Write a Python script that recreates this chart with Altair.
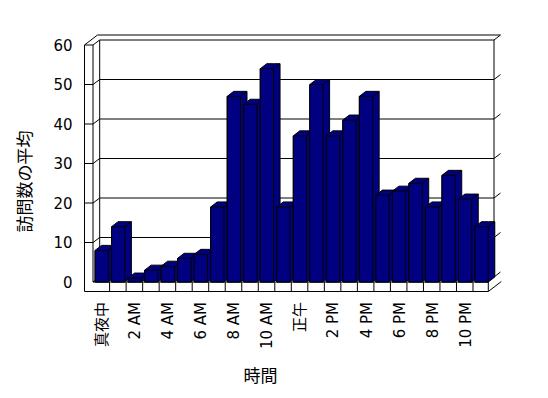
import json
import altair as alt
import pandas as pd

# ---------------- data ----------------
hours = ["真夜中", "1 AM", "2 AM", "3 AM", "4 AM", "5 AM", "6 AM", "7 AM", "8 AM", "9 AM",
         "10 AM", "11 AM", "正午", "1 PM", "2 PM", "3 PM", "4 PM", "5 PM", "6 PM", "7 PM",
         "8 PM", "9 PM", "10 PM", "11 PM"]
visits = [8, 14, 1, 3, 4, 6, 7, 19, 47, 45, 54, 19, 37, 50, 37, 41, 47, 22, 23, 25, 19, 27, 21, 14]
y_ticks = [0, 10, 20, 30, 40, 50, 60]
x_title = "時間"
y_title = "訪問数の平均"

# ---------------- geometry / style ----------------
W, H = 407, 237
X_DOMAIN = [-0.64, 24.0]
PX_PER_SLOT = W / (X_DOMAIN[1] - X_DOMAIN[0])
BAR_W = 13.3 / PX_PER_SLOT
DX = 6.5 / PX_PER_SLOT          # depth offset in slot units
DY = 5.0 * 60 / H               # depth offset in value units
NAVY = "#000080"
LAT = "DejaVu Sans, Noto Sans CJK JP"
CJK = "Noto Sans CJK JP"

xs = alt.Scale(domain=X_DOMAIN, nice=False, zero=False)
ys = alt.Scale(domain=[0, 60], nice=False, zero=False)

bars = pd.DataFrame({"idx": list(range(len(hours))), "hour": hours, "v": visits})
bars["x0"] = bars["idx"].astype(float)
bars["x1"] = bars["x0"] + BAR_W
bars["x1d"] = bars["x1"] + DX
bars["vd"] = bars["v"] + DY
bars["zero"] = 0.0

rows = []
for i, v in enumerate(visits):
    rows += [
        {"idx": i, "sx": i, "top": v, "bot": 0.0},
        {"idx": i, "sx": i + DX, "top": v + DY, "bot": 0.0},
        {"idx": i, "sx": i + BAR_W, "top": v + DY, "bot": 0.0},
        {"idx": i, "sx": i + BAR_W + DX, "top": v + DY, "bot": DY},
    ]
sil = pd.DataFrame(rows)

grid = pd.DataFrame({"v": y_ticks})
inner_grid = pd.DataFrame({"v": y_ticks[1:-1]})
floor_ticks = pd.DataFrame({"t": [i + 0.88 for i in range(len(hours) - 1)]})
one = pd.DataFrame({"a": [0]})


def seg(xa, ya, xb, yb):
    return alt.Chart(one).mark_rule(color="black", strokeWidth=1).encode(
        x=alt.value(xa), y=alt.value(ya), x2=alt.value(xb), y2=alt.value(yb))


FLOOR_Y0, FLOOR_Y1 = H, H + 9.5
RIGHT = 403.8

back_wall = alt.Chart(one).mark_rect(fill="white", stroke="black", strokeWidth=1).encode(
    x=alt.value(15.2), x2=alt.value(409.5), y=alt.value(-5), y2=alt.value(H - 5))

back_grid = alt.Chart(inner_grid).mark_rule(color="black", yOffset=-5).encode(
    y=alt.Y("v:Q", scale=ys, axis=None), x=alt.value(15.2), x2=alt.value(409.5))

right_stubs = alt.Chart(grid).mark_rule(color="black", yOffset=-5, y2Offset=-10).encode(
    y=alt.Y("v:Q", scale=ys, axis=None), y2="v:Q", x=alt.value(409.5), x2=alt.value(416))

left_diag = alt.Chart(grid).mark_rule(color="black", y2Offset=-5).encode(
    y=alt.Y("v:Q", scale=ys, axis=None), y2="v:Q", x=alt.value(8.5), x2=alt.value(15.2))

left_front = alt.Chart(inner_grid).mark_rule(color="black").encode(
    y=alt.Y("v:Q", scale=ys, axis=None), x=alt.value(0), x2=alt.value(8.5))

frame = [
    seg(0, 0, 8.5, 0),
    seg(0, 0, 13, -10),
    seg(13, -10, 416, -10),
    seg(0, 0, 0, FLOOR_Y1),
    seg(8.5, 0, 8.5, FLOOR_Y0),
    seg(8.5, FLOOR_Y0, RIGHT, FLOOR_Y0),
    seg(0, FLOOR_Y1, RIGHT, FLOOR_Y1),
    seg(RIGHT, FLOOR_Y0, RIGHT, FLOOR_Y1),
    seg(RIGHT, FLOOR_Y1, RIGHT + 13, FLOOR_Y1 - 10),
]

ticks = alt.Chart(floor_ticks).mark_rule(color="black").encode(
    x=alt.X("t:Q", scale=xs, axis=None), y=alt.value(FLOOR_Y0), y2=alt.value(FLOOR_Y1))

silhouette = alt.Chart(sil).mark_area(
    fill=NAVY, stroke="black", strokeWidth=1, orient="vertical", opacity=1
).encode(
    x=alt.X("sx:Q", scale=xs, axis=None),
    y=alt.Y("top:Q", scale=ys, axis=None),
    y2="bot:Q",
    detail="idx:N",
)

edge = alt.Chart(bars).mark_rule(color="black", strokeWidth=1).encode(
    x=alt.X("x1:Q", scale=xs, axis=None), x2="x1d:Q",
    y=alt.Y("v:Q", scale=ys, axis=None), y2="vd:Q",
)

label_arr = json.dumps(hours[::2], ensure_ascii=False)
half = BAR_W / 2
x_axis = alt.Axis(
    values=[i + half for i in range(0, len(hours), 2)],
    labelExpr=f"{label_arr}[round((datum.value - {half}) / 2)]",
    labelAngle=270, labelAlign="right", labelBaseline="middle",
    labelPadding=19.5, ticks=False, tickSize=0, domain=False, grid=False,
    labelFont=LAT, labelFontSize=15, labelColor="black",
    labelOverlap=False, labelFlush=False, labelBound=False,
    title=x_title, titleFont=CJK, titleFontSize=17, titleFontWeight="normal",
    titleColor="black", titleX=175.5, titleY=94, titleAlign="center",
    titleBaseline="middle",
)
y_axis = alt.Axis(
    values=y_ticks, domain=False, ticks=False, tickSize=0, grid=False,
    labelPadding=12.5, labelFont=LAT, labelFontSize=15, labelColor="black",
    title=y_title, titleFont=CJK, titleFontSize=17, titleFontWeight="normal",
    titleColor="black", titleAngle=270, titleX=-59.5, titleY=136,
    titleAlign="center", titleBaseline="middle",
)

front = alt.Chart(bars).mark_rect(fill=NAVY, stroke="black", strokeWidth=1).encode(
    x=alt.X("x0:Q", scale=xs, axis=x_axis), x2="x1:Q",
    y=alt.Y("v:Q", scale=ys, axis=y_axis), y2="zero:Q",
)

chart = alt.layer(
    back_wall, back_grid, right_stubs, left_diag, left_front, *frame, ticks,
    silhouette, edge, front
).resolve_axis(x="independent", y="independent").properties(
    width=W, height=H,
    autosize=alt.AutoSizeParams(type="none"),
    padding={"left": 76.5, "top": 37, "right": 48, "bottom": 110},
    background="white",
).configure_view(stroke=None)

chart.save("out.html", embed_options={"renderer": "svg", "actions": False})
